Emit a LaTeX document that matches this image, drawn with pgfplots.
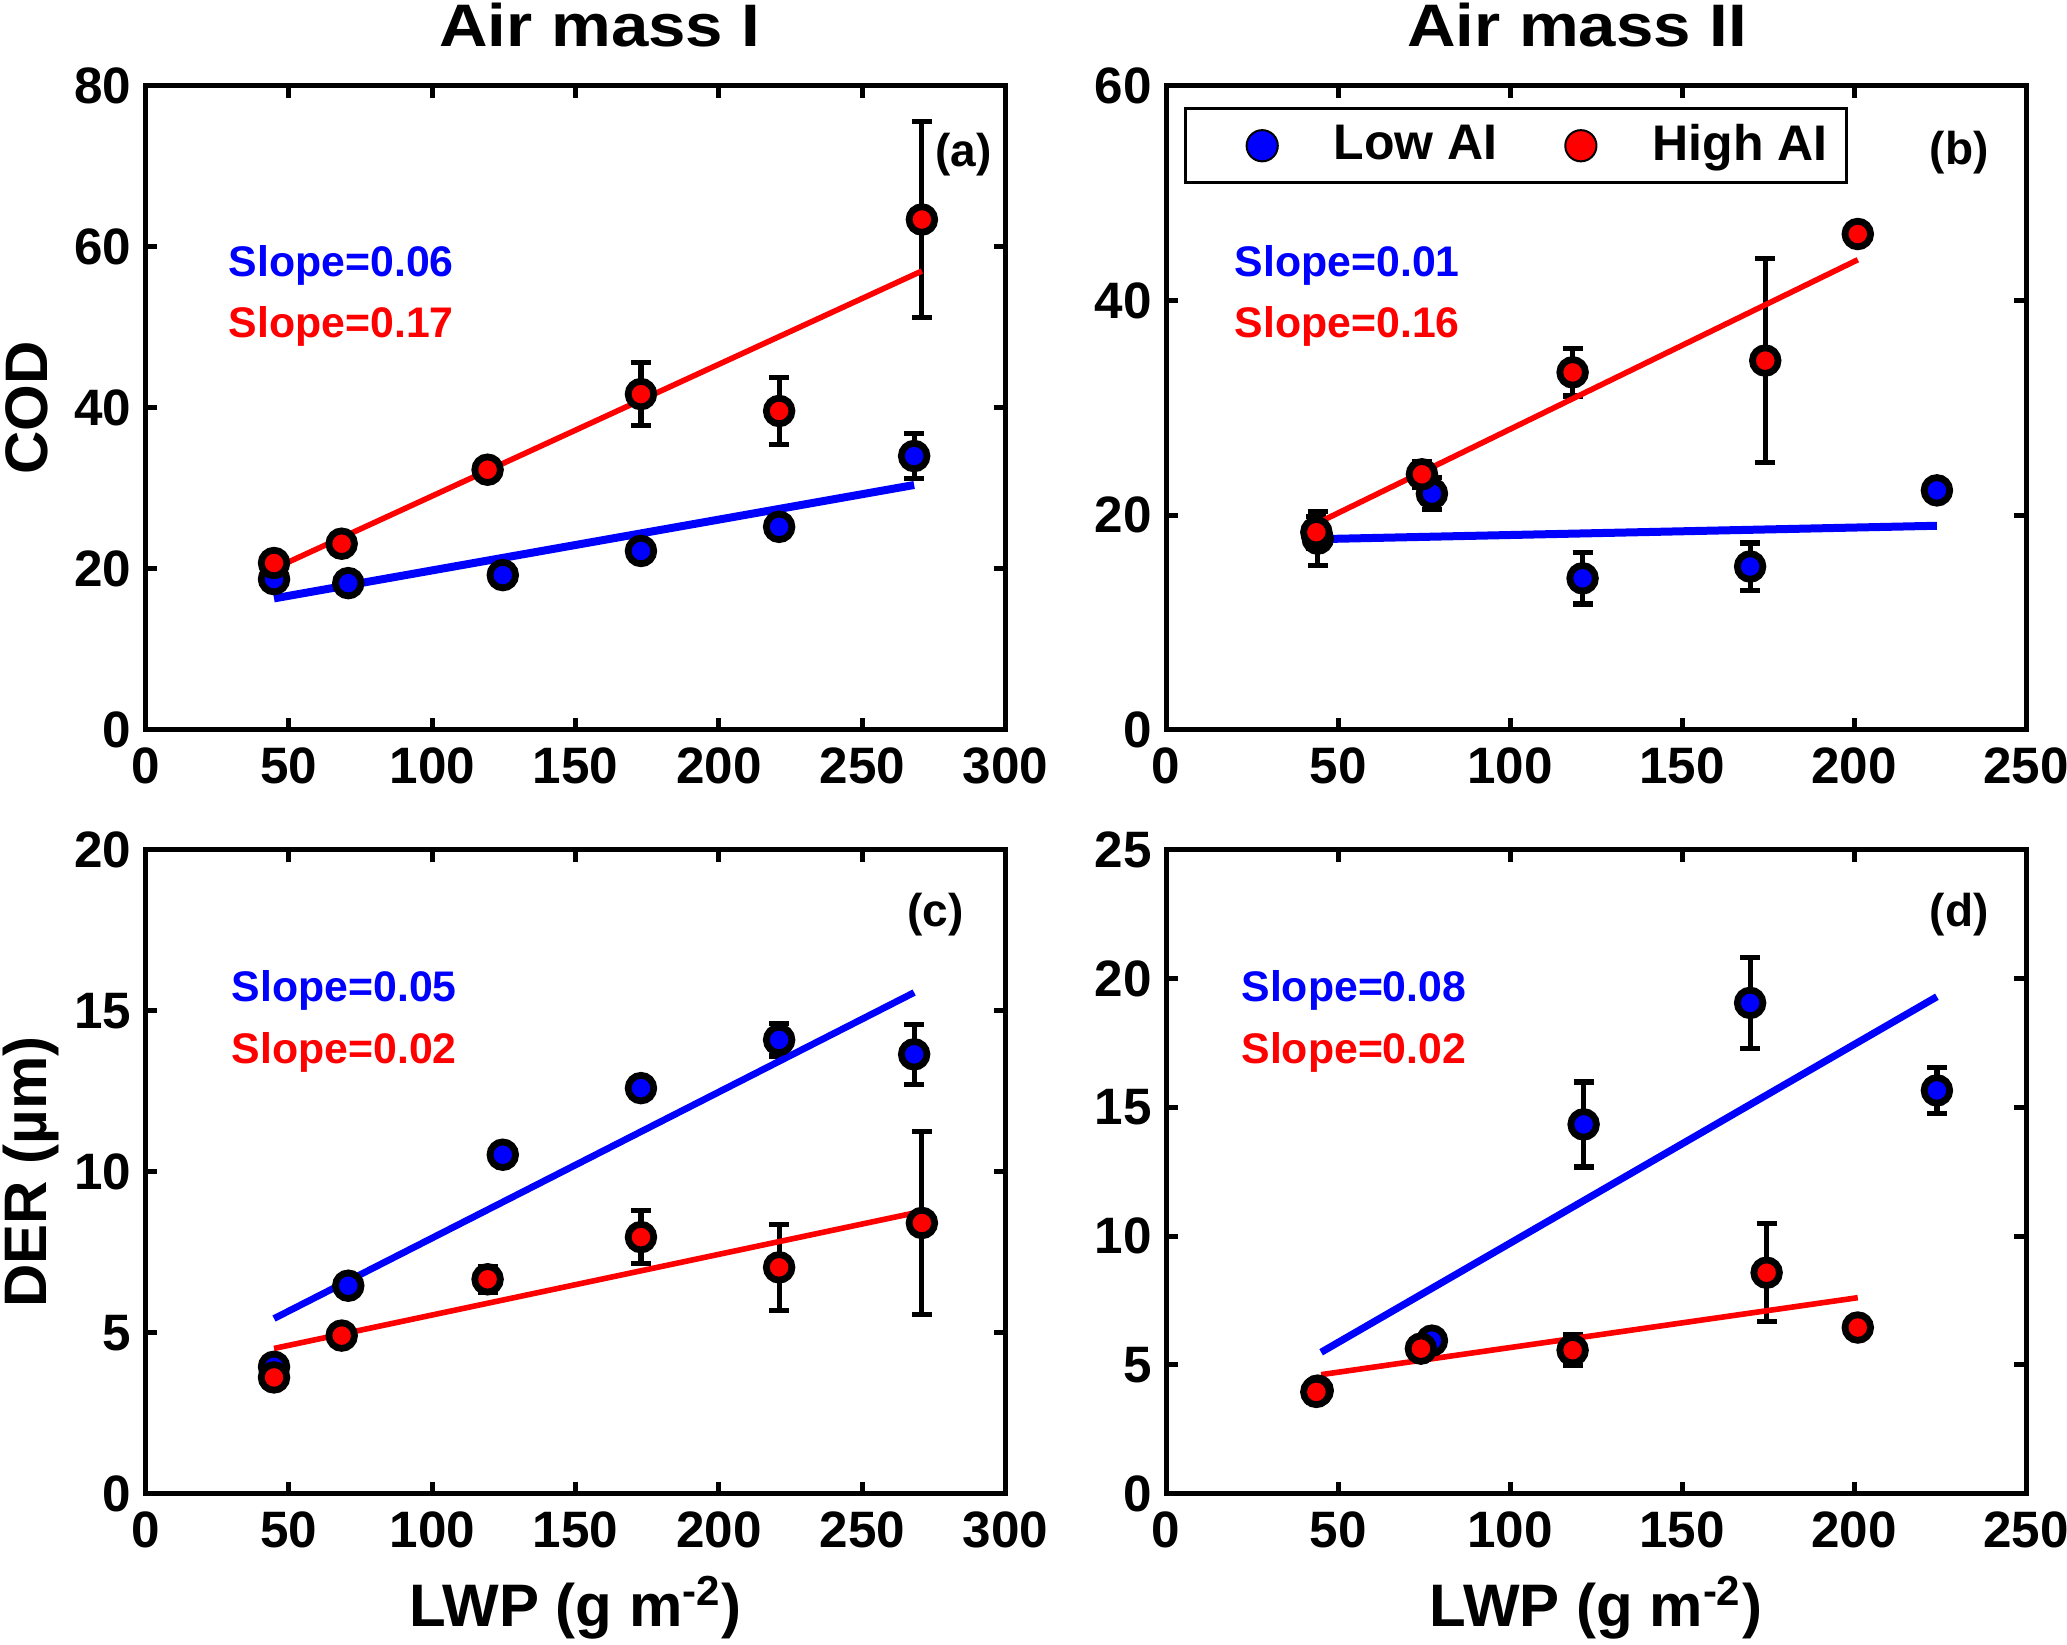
\documentclass[border=0pt]{standalone}
\usepackage{pgfplots}
\pgfplotsset{compat=1.18}
\usepackage{pgfplotstable}
\usepackage{fontspec}
\setmainfont{Liberation Sans}
\newfontfamily\titlefont{Liberation Sans}[FakeStretch=1.12]

\pgfplotstableread{
x y e
44.8 18.7 1.2
70.7 18.2 1.0
124.6 19.2 1.0
172.8 22.2 1.0
221.0 25.2 1.0
268.1 34.0 2.8
}\aLow
\pgfplotstableread{
x y e
44.8 20.7 1.2
68.4 23.1 1.2
119.3 32.3 1.2
172.8 41.7 3.9
221.0 39.6 4.2
270.8 63.4 12.2
}\aHigh
\pgfplotstableread{
x y e
44.1 17.8 2.5
77.3 22.0 1.5
121.1 14.1 2.4
169.8 15.2 2.2
224.1 22.3 0.8
}\bLow
\pgfplotstableread{
x y e
43.7 18.4 1.5
74.4 23.8 1.2
118.2 33.3 2.2
174.2 34.4 9.5
201.1 46.2 0.8
}\bHigh
\pgfplotstableread{
x y e
44.8 3.94 0.3
70.7 6.46 0.3
124.6 10.53 0.3
172.8 12.6 0.3
221.0 14.1 0.5
268.1 13.65 0.93
}\cLow
\pgfplotstableread{
x y e
44.8 3.61 0.3
68.4 4.91 0.3
119.3 6.66 0.4
172.8 7.97 0.83
221.0 7.03 1.33
270.8 8.41 2.85
}\cHigh
\pgfplotstableread{
x y e
44.1 4.0 0.3
77.3 5.94 0.3
121.4 14.34 1.65
169.8 19.06 1.76
224.1 15.66 0.9
}\dLow
\pgfplotstableread{
x y e
43.7 3.95 0.4
74.1 5.63 0.4
118.2 5.57 0.6
174.6 8.58 1.9
201.1 6.45 0.3
}\dHigh

\newcommand{\labfont}{\fontsize{15}{16}\selectfont\bfseries}
\pgfplotsset{
  panel/.style={
    scale only axis, width=215pt, height=160.9pt,
    anchor=north west,
    axis line style={line width=1.25pt},
    major tick length=2.9pt,
    tick style={line width=1.25pt, black},
    xtick pos=both, ytick pos=both,
    xticklabel pos=lower, yticklabel pos=left,
    tick label style={font=\fontsize{12.8}{13}\selectfont\bfseries},
    xticklabel style={yshift=-1.1pt},
    /pgf/number format/assume math mode=true,
    clip=false,
  },
  pts/.style={only marks, mark=*, mark size=3.2pt,
    mark options={fill=#1, draw=black, line width=1.7pt},
    error bars/.cd, y dir=both, y explicit,
    error bar style={line width=1.3pt, black},
    error mark options={line width=1.3pt, black, mark size=2.5pt, rotate=90}},
  fitlow/.style={blue, line width=#1},
  fithigh/.style={red, line width=1.4pt},
}
\newcommand{\slopefont}{\fontsize{10.7}{11}\selectfont\bfseries}
\newcommand{\panelfont}{\fontsize{11.5}{12}\selectfont\bfseries}

\begin{document}
\begin{tikzpicture}
\path[use as bounding box] (0,0) rectangle (516.75pt,-411.25pt);

\node[font=\titlefont\fontsize{15}{16}\selectfont\bfseries, anchor=base, inner sep=0pt] at (150pt,-11.7pt) {Air mass I};
\node[font=\titlefont\fontsize{15}{16}\selectfont\bfseries, anchor=base, inner sep=0pt] at (394.3pt,-11.7pt) {Air mass II};

% (a)
\begin{axis}[panel, at={(36.4pt,-21.5pt)},
  xmin=0, xmax=300, ymin=0, ymax=80,
  xtick={0,50,...,300}, ytick={0,20,...,80},
  ylabel={COD},
  every axis y label/.style={at={(axis description cs:-0.1386,0.5)}, rotate=90, anchor=center, font=\labfont}]
\addplot[pts=blue] table[x=x, y=y, y error=e] {\aLow};
\addplot[pts=red] table[x=x, y=y, y error=e] {\aHigh};
\addplot[fitlow=2.0pt] coordinates {(44.8,16.3) (268.1,30.4)};
\addplot[fithigh] coordinates {(44.8,20.0) (270.8,57.0)};
\node[font=\slopefont, anchor=base west, inner sep=0pt, yshift=-3.8pt, text=blue] at (axis cs:28.8,58.2) {Slope=0.06};
\node[font=\slopefont, anchor=base west, inner sep=0pt, yshift=-3.8pt, text=red] at (axis cs:28.8,50.6) {Slope=0.17};
\node[font=\panelfont, inner sep=0pt] at (axis cs:285.3,71.5) {(a)};
\end{axis}

% (b)
\begin{axis}[panel, at={(291.5pt,-21.5pt)},
  xmin=0, xmax=250, ymin=0, ymax=60,
  xtick={0,50,...,250}, ytick={0,20,...,60},
  legend style={at={(axis description cs:0.0214,0.967)}, anchor=north west,
    draw=black, line width=0.7pt, inner xsep=0pt, inner ysep=4pt,
    nodes={inner sep=0pt},
    font=\fontsize{12.5}{13}\selectfont\bfseries, legend columns=2,
    /tikz/every even column/.append style={column sep=1.7pt}},
  legend cell align=left]
\addlegendimage{legend image code/.code={\path[draw=none, fill=none] (0pt,-4.2pt) rectangle (37pt,4.2pt);
  \draw[only marks, mark=*, mark size=3.9pt, mark options={fill=blue, draw=black, line width=0.5pt}] plot coordinates {(19.1pt,0pt)};}}
\addlegendentry{Low AI}
\addlegendimage{legend image code/.code={\path[draw=none, fill=none] (0pt,-4.2pt) rectangle (37pt,4.2pt);
  \draw[only marks, mark=*, mark size=3.9pt, mark options={fill=red, draw=black, line width=0.5pt}] plot coordinates {(19.1pt,0pt)};}}
\addlegendentry{High AI\hspace*{4.8pt}}
\addplot[pts=blue] table[x=x, y=y, y error=e] {\bLow};
\addplot[pts=red] table[x=x, y=y, y error=e] {\bHigh};
\addplot[fitlow=2.0pt] coordinates {(44.1,17.75) (224.1,19.0)};
\addplot[fithigh] coordinates {(43.7,19.2) (201.1,43.8)};
\node[font=\slopefont, anchor=base west, inner sep=0pt, yshift=-3.8pt, text=blue] at (axis cs:19.8,43.7) {Slope=0.01};
\node[font=\slopefont, anchor=base west, inner sep=0pt, yshift=-3.8pt, text=red] at (axis cs:19.8,37.95) {Slope=0.16};
\node[font=\panelfont, inner sep=0pt] at (axis cs:230.6,53.8) {(b)};
\end{axis}

% (c)
\begin{axis}[panel, at={(36.4pt,-212.5pt)},
  xmin=0, xmax=300, ymin=0, ymax=20,
  xtick={0,50,...,300}, ytick={0,5,...,20},
  ylabel={DER (µm)},
  every axis y label/.style={at={(axis description cs:-0.1335,0.5)}, rotate=90, anchor=center, font=\labfont},
  xlabel={LWP (g m\textsuperscript{-2})},
  every axis x label/.style={at={(axis description cs:0.5,-0.177)}, anchor=center, font=\labfont}]
\addplot[pts=blue] table[x=x, y=y, y error=e] {\cLow};
\addplot[pts=red] table[x=x, y=y, y error=e] {\cHigh};
\addplot[fitlow=1.7pt] coordinates {(44.8,5.44) (268.1,15.57)};
\addplot[fithigh] coordinates {(44.8,4.51) (270.8,8.77)};
\node[font=\slopefont, anchor=base west, inner sep=0pt, yshift=-3.8pt, text=blue] at (axis cs:29.8,15.77) {Slope=0.05};
\node[font=\slopefont, anchor=base west, inner sep=0pt, yshift=-3.8pt, text=red] at (axis cs:29.8,13.83) {Slope=0.02};
\node[font=\panelfont, inner sep=0pt] at (axis cs:275.6,17.98) {(c)};
\end{axis}

% (d)
\begin{axis}[panel, at={(291.5pt,-212.5pt)},
  xmin=0, xmax=250, ymin=0, ymax=25,
  xtick={0,50,...,250}, ytick={0,5,...,25},
  xlabel={LWP (g m\textsuperscript{-2})},
  every axis x label/.style={at={(axis description cs:0.5,-0.177)}, anchor=center, font=\labfont}]
\addplot[pts=blue] table[x=x, y=y, y error=e] {\dLow};
\addplot[pts=red] table[x=x, y=y, y error=e] {\dHigh};
\addplot[fitlow=1.8pt] coordinates {(45.1,5.49) (224.1,19.3)};
\addplot[fithigh] coordinates {(45.1,4.62) (201.1,7.61)};
\node[font=\slopefont, anchor=base west, inner sep=0pt, yshift=-3.8pt, text=blue] at (axis cs:21.7,19.71) {Slope=0.08};
\node[font=\slopefont, anchor=base west, inner sep=0pt, yshift=-3.8pt, text=red] at (axis cs:21.7,17.29) {Slope=0.02};
\node[font=\panelfont, inner sep=0pt] at (axis cs:230.6,22.48) {(d)};
\end{axis}
\end{tikzpicture}
\end{document}
